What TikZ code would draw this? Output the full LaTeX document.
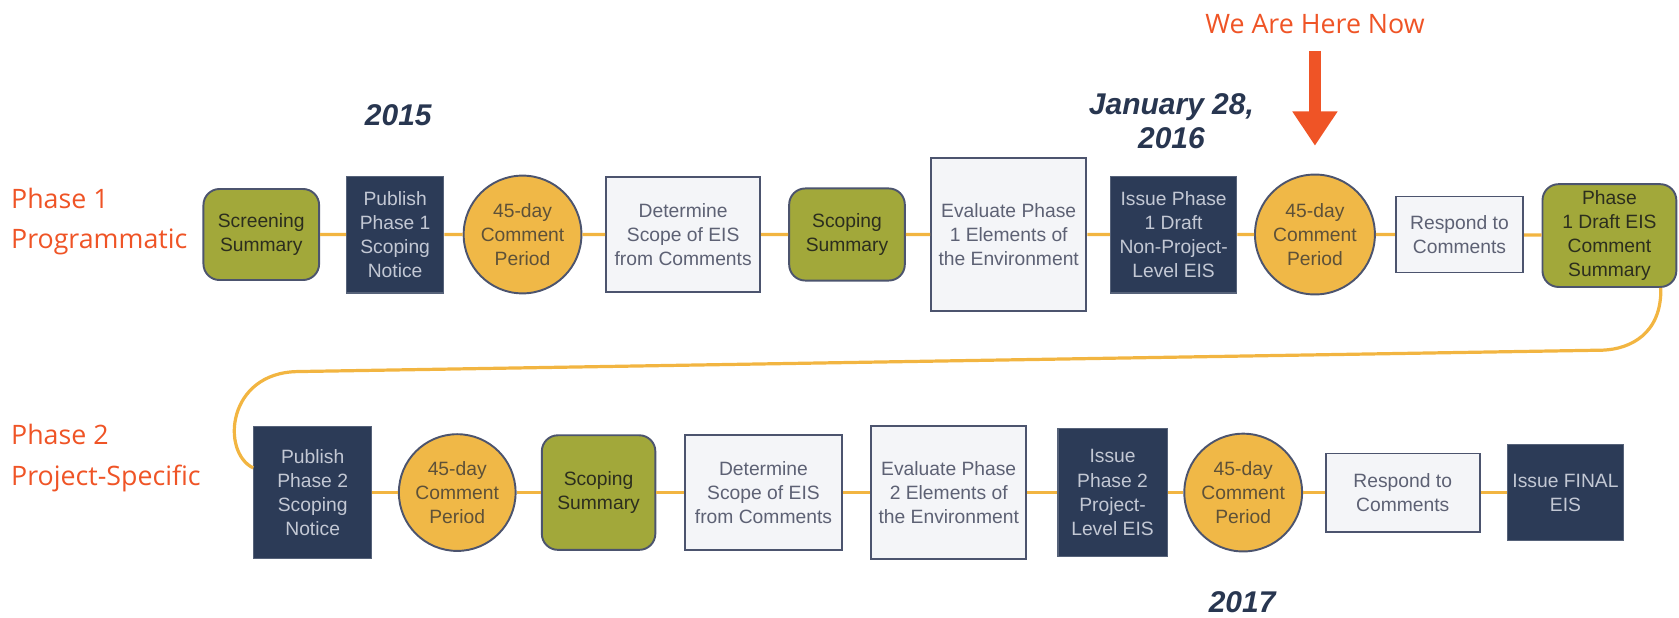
\documentclass[tikz,border=0pt]{standalone}
\usepackage{fontspec}
\setmainfont{Liberation Sans}
\newfontfamily\labelfont{Open Sans}
\usetikzlibrary{arrows.meta,shapes}

\definecolor{phaseorange}{HTML}{EF5426}
\definecolor{navyfill}{HTML}{2C3B57}
\definecolor{navytext}{HTML}{C3C8D4}
\definecolor{olive}{HTML}{A2A83A}
\definecolor{olivetext}{HTML}{2C2E1E}
\definecolor{gold}{HTML}{F0B847}
\definecolor{goldtext}{HTML}{5E5138}
\definecolor{paper}{HTML}{F4F5F8}
\definecolor{papertext}{HTML}{5D6174}
\definecolor{edge}{HTML}{4C546E}
\definecolor{linkgold}{HTML}{F2B541}
\definecolor{yearnavy}{HTML}{283650}

\begin{document}
\begin{tikzpicture}[x=0.5pt, y=-0.5pt,
    every node/.style={font=\fontsize{9}{11.3}\selectfont, align=center, inner sep=0pt},
    navybox/.style={rectangle, draw=navyfill!80!white, fill=navyfill, text=navytext, line width=0.6pt},
    paperbox/.style={rectangle, draw=edge, fill=paper, text=papertext, line width=0.9pt},
    olivebox/.style={rectangle, rounded corners=7.5pt, draw=edge, fill=olive, text=olivetext, line width=0.9pt},
    period/.style={circle, draw=edge, fill=gold, text=goldtext, line width=0.9pt, minimum size=#1},
    link/.style={draw=linkgold, line width=1.5pt},
    phase/.style={font=\labelfont\fontsize{12.5}{19}\selectfont, text=phaseorange, align=left, anchor=west},
    year/.style={font=\bfseries\itshape\fontsize{14}{16}\selectfont, text=yearnavy},
    nowarrow/.style={draw=phaseorange, line width=5.5pt, -{Triangle[width=20pt,length=16pt]}}]

  \useasboundingbox (0,0) rectangle (1568,577);

  \node[phase] (ph1) at (10,207) {Phase 1\\Programmatic};
  \node[phase] (ph2) at (10,428) {Phase 2\\Project-Specific};

  \node[year] (y2015) at (372,108) {2015};
  \node[year] (y2016) at (1094,113) {January 28,\\2016};
  \node[year] (y2017) at (1160,562) {2017};
  \node[font=\labelfont\fontsize{12.5}{15}\selectfont, text=phaseorange] (here) at (1228,22) {We Are Here Now};

  % first row
  \node[olivebox, minimum width=54pt, minimum height=42.5pt] (scr1) at (244,219) {Screening\\Summary};
  \node[navybox, minimum width=45.5pt, minimum height=54.5pt] (pub1) at (369,219) {Publish\\Phase 1\\Scoping\\Notice};
  \node[period=55pt] (cmt1) at (488,219) {45-day\\Comment\\Period};
  \node[paperbox, minimum width=72pt, minimum height=54pt] (det1) at (638,219) {Determine\\Scope of EIS\\from Comments};
  \node[olivebox, minimum width=54pt, minimum height=43pt] (scp1) at (791,219) {Scoping\\Summary};
  \node[paperbox, minimum width=72.5pt, minimum height=71.5pt] (eva1) at (942,219) {Evaluate Phase\\1 Elements of\\the Environment};
  \node[navybox, minimum width=59pt, minimum height=54.5pt] (iss1) at (1096,219) {Issue Phase\\1 Draft\\Non-Project-\\Level EIS};
  \node[period=56pt] (cmt2) at (1228,219) {45-day\\Comment\\Period};
  \node[paperbox, minimum width=59.5pt, minimum height=35.5pt] (rsp1) at (1363,219) {Respond to\\Comments};
  \node[olivebox, minimum width=62.5pt, minimum height=48pt] (sum1) at (1503,220) {Phase\\1 Draft EIS\\Comment\\Summary};

  % second row
  \node[navybox, minimum width=55pt, minimum height=61.5pt] (pub2) at (292,460) {Publish\\Phase 2\\Scoping\\Notice};
  \node[period=54.5pt] (cmt3) at (427,460) {45-day\\Comment\\Period};
  \node[olivebox, minimum width=53pt, minimum height=53.5pt] (scp2) at (559,460) {Scoping\\Summary};
  \node[paperbox, minimum width=73pt, minimum height=53.5pt] (det2) at (713,460) {Determine\\Scope of EIS\\from Comments};
  \node[paperbox, minimum width=72.5pt, minimum height=62pt] (eva2) at (886,460) {Evaluate Phase\\2 Elements of\\the Environment};
  \node[navybox, minimum width=51pt, minimum height=59.5pt] (iss2) at (1039,460) {Issue\\Phase 2\\Project-\\Level EIS};
  \node[period=55pt] (cmt4) at (1161,460) {45-day\\Comment\\Period};
  \node[paperbox, minimum width=72pt, minimum height=36.5pt] (rsp2) at (1310,460) {Respond to\\Comments};
  \node[navybox, minimum width=54pt, minimum height=45pt] (fin) at (1462,460) {Issue FINAL\\EIS};

  \draw[link] (scr1) -- (pub1) -- (cmt1) -- (det1) -- (scp1) -- (eva1) -- (iss1) -- (cmt2) -- (rsp1) -- (sum1);
  \draw[link] (pub2) -- (cmt3) -- (scp2) -- (det2) -- (eva2) -- (iss2) -- (cmt4) -- (rsp2) -- (fin);

  \coordinate (turnR) at (1497,327);
  \coordinate (turnL) at (278,347);
  \draw[link] ([xshift=24pt]sum1.south) .. controls (1552,312) and (1522,326) .. (turnR)
    -- (turnL) .. controls (212,348) and (206,422) .. ([yshift=11.5pt]pub2.west);

  \draw[nowarrow, shorten <=8pt, shorten >=13pt] (here) -- (cmt2);
\end{tikzpicture}
\end{document}
